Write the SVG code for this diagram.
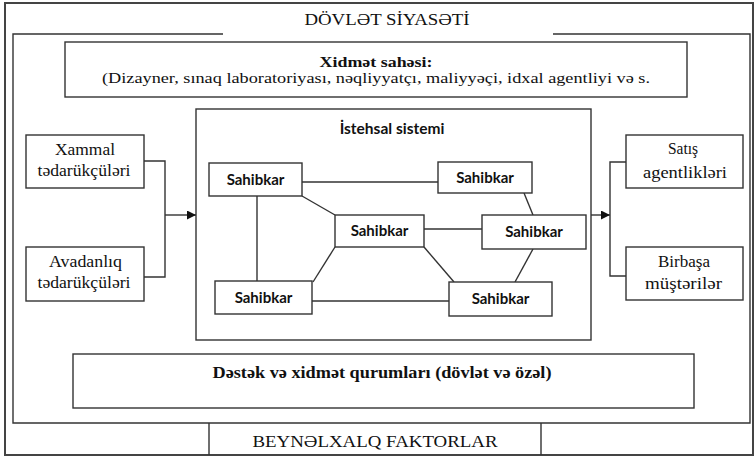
<svg xmlns="http://www.w3.org/2000/svg" width="754" height="457" viewBox="0 0 754 457">
<defs>
<marker id="arr" viewBox="0 0 10 10" refX="10" refY="5" markerWidth="9" markerHeight="9" markerUnits="userSpaceOnUse" orient="auto">
<path d="M0,0 L10,5 L0,10 z" fill="#111"/>
</marker>
<style>
.frame{fill:none;stroke:#444;stroke-width:2}
.line{fill:none;stroke:#333;stroke-width:1.4}
.box{fill:#fff;stroke:#333;stroke-width:1.4}
.serif{font-family:"Liberation Serif","Times New Roman",serif;fill:#111;text-anchor:middle}
.sans{font-family:Lato,"Open Sans","Liberation Sans",sans-serif;font-weight:bold;fill:#111;text-anchor:middle}
</style>
</defs>
<rect width="754" height="457" fill="#fff"/>
<g id="frame">
<rect class="frame" x="5" y="3" width="748" height="452"/>
<path class="line" d="M223,34 H13 V423 H750 V34 H553"/>
<path class="line" d="M209,423 V455 M541,423 V455"/>
<text class="serif" x="387" y="25" font-size="16" textLength="165" lengthAdjust="spacingAndGlyphs">DÖVLƏT SİYASƏTİ</text>
<text class="serif" x="375" y="447" font-size="16" textLength="245" lengthAdjust="spacingAndGlyphs">BEYNƏLXALQ FAKTORLAR</text>
</g>
<g id="xidmet">
<rect class="box" x="65" y="42" width="622" height="55"/>
<text class="serif" x="376" y="67" font-size="15" font-weight="bold" textLength="113" lengthAdjust="spacingAndGlyphs">Xidmət sahəsi:</text>
<text class="serif" x="376" y="83" font-size="15.5" textLength="548" lengthAdjust="spacingAndGlyphs">(Dizayner, sınaq laboratoriyası, nəqliyyatçı, maliyyəçi, idxal agentliyi və s.</text>
</g>
<g id="destek">
<rect class="box" x="73" y="354" width="621" height="54"/>
<text class="serif" x="382" y="378" font-size="16" font-weight="bold" textLength="339" lengthAdjust="spacingAndGlyphs">Dəstək və xidmət qurumları (dövlət və özəl)</text>
</g>
<g id="xammal">
<rect class="box" x="26" y="135" width="118" height="53"/>
<text class="serif" x="85" y="155" font-size="16" textLength="60" lengthAdjust="spacingAndGlyphs">Xammal</text>
<text class="serif" x="84" y="176" font-size="16" textLength="93" lengthAdjust="spacingAndGlyphs">tədarükçüləri</text>
</g>
<g id="avadanliq">
<rect class="box" x="26" y="247" width="118" height="54"/>
<text class="serif" x="85.5" y="267" font-size="16" textLength="73" lengthAdjust="spacingAndGlyphs">Avadanlıq</text>
<text class="serif" x="84" y="288" font-size="16" textLength="93" lengthAdjust="spacingAndGlyphs">tədarükçüləri</text>
</g>
<g id="satis">
<rect class="box" x="626" y="135" width="117" height="53"/>
<text class="serif" x="683" y="154" font-size="16" textLength="30" lengthAdjust="spacingAndGlyphs">Satış</text>
<text class="serif" x="685" y="178" font-size="16" textLength="84" lengthAdjust="spacingAndGlyphs">agentlikləri</text>
</g>
<g id="birbasa">
<rect class="box" x="626" y="247" width="117" height="53"/>
<text class="serif" x="684" y="267" font-size="16" textLength="52" lengthAdjust="spacingAndGlyphs">Birbaşa</text>
<text class="serif" x="683.5" y="289" font-size="16" textLength="77" lengthAdjust="spacingAndGlyphs">müştərilər</text>
</g>
<g id="istehsal">
<rect class="box" x="196" y="109" width="395" height="231"/>
<text class="sans" x="392" y="134" font-size="15.5">İstehsal sistemi</text>
</g>
<g id="connectors">
<path class="line" d="M144,161 H165 V277 H144"/>
<path class="line" d="M165,215 H196" marker-end="url(#arr)"/>
<path class="line" d="M591,215 H610" marker-end="url(#arr)"/>
<path class="line" d="M626,162 H610 V276 H626"/>
<path class="line" d="M302,182 H438"/>
<path class="line" d="M257,196 V281"/>
<path class="line" d="M302,196 L335,215"/>
<path class="line" d="M524,193 L533,215"/>
<path class="line" d="M424,229 H482"/>
<path class="line" d="M335,247 L313,282"/>
<path class="line" d="M424,247 L454,282"/>
<path class="line" d="M533,249 L515,282"/>
<path class="line" d="M312,301 H449"/>
</g>
<g id="s1"><rect class="box" x="209" y="163" width="93" height="33"/><text class="sans" x="255.5" y="185" font-size="15">Sahibkar</text></g>
<g id="s2"><rect class="box" x="438" y="162" width="94" height="31"/><text class="sans" x="485" y="183" font-size="15">Sahibkar</text></g>
<g id="s3"><rect class="box" x="335" y="215" width="89" height="32"/><text class="sans" x="379.5" y="236" font-size="15">Sahibkar</text></g>
<g id="s4"><rect class="box" x="482" y="215" width="104" height="34"/><text class="sans" x="534" y="237" font-size="15">Sahibkar</text></g>
<g id="s5"><rect class="box" x="215" y="281" width="97" height="33"/><text class="sans" x="263.5" y="303" font-size="15">Sahibkar</text></g>
<g id="s6"><rect class="box" x="449" y="282" width="103" height="34"/><text class="sans" x="500.5" y="304" font-size="15">Sahibkar</text></g>
</svg>
